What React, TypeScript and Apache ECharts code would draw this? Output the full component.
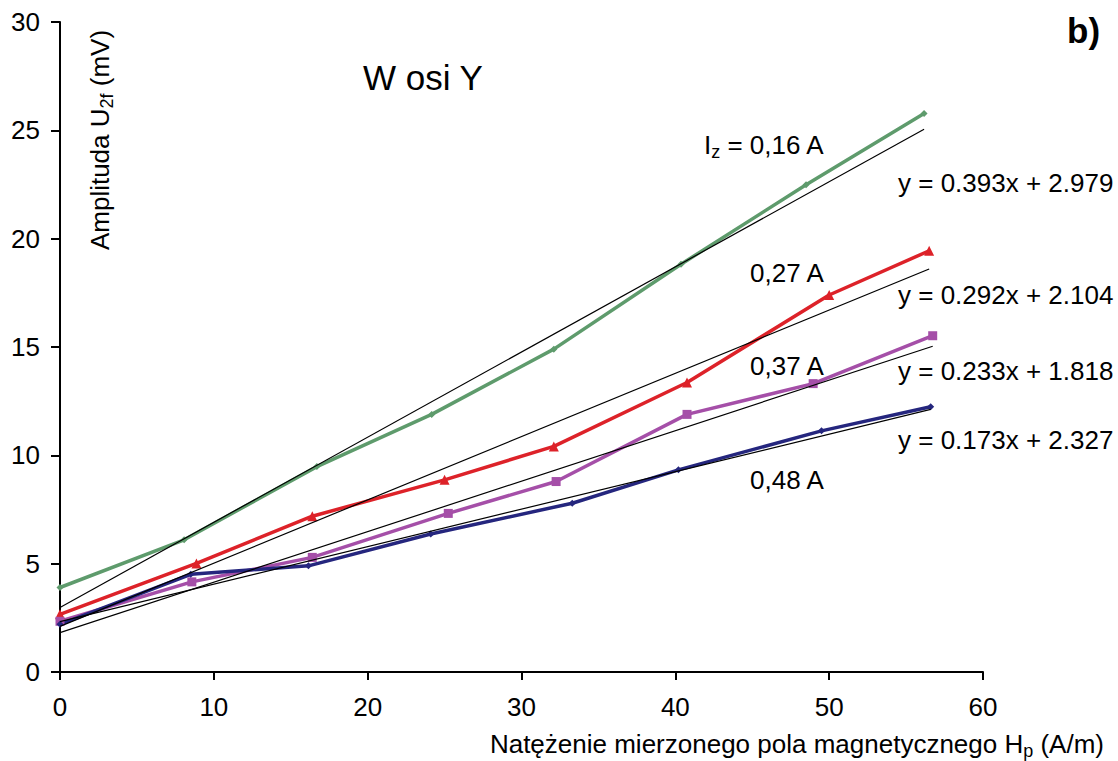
import React, { useEffect, useRef } from "react";
import * as echarts from "echarts";

const FONT = '"Liberation Sans", Arial, Helvetica, sans-serif';

// Measured series (H_p in A/m, U_2f in mV)
const seriesNames = ["0,16 A", "0,27 A", "0,37 A", "0,48 A"];
const xA = [0, 8.07, 16.7, 24.16, 32.1, 40.37, 48.5, 56.17];
const yA = [3.9, 6.1, 9.48, 11.89, 14.9, 18.82, 22.49, 25.78];
const xB = [0, 8.87, 16.4, 25.0, 32.1, 40.76, 50.0, 56.5];
const yB = [2.66, 5.01, 7.19, 8.87, 10.41, 13.36, 17.4, 19.44];
const xC = [0, 8.57, 16.4, 25.24, 32.25, 40.76, 48.96, 56.73];
const yC = [2.34, 4.16, 5.29, 7.32, 8.79, 11.89, 13.31, 15.52];
const xD = [0, 8.5, 16.15, 24.1, 33.3, 40.2, 49.5, 56.6];
const yD = [2.2, 4.51, 4.9, 6.37, 7.79, 9.33, 11.13, 12.24];

// Linear trendlines y = a*x + b
const slopes = [0.393, 0.292, 0.233, 0.173];
const intercepts = [2.979, 2.104, 1.818, 2.327];
const trendEnds = [56.17, 56.5, 56.73, 56.6];

const colors = ["#5E9B6C", "#DD2229", "#A54FA8", "#25267E"];
const symbols = ["diamond", "triangle", "rect", "diamond"];
const symbolSizes = [7, 10, 9, 7];

export default function App() {
  const ref = useRef<HTMLDivElement>(null);
  useEffect(() => {
    if (!ref.current) return;
    const chart = echarts.init(ref.current, undefined, { renderer: "svg" });
    const xs = [xA, xB, xC, xD];
    const ys = [yA, yB, yC, yD];

    const dataSeries = xs.map((xv, i) => ({
      name: seriesNames[i],
      type: "line",
      data: xv.map((x, j) => [x, ys[i][j]]),
      symbol: symbols[i],
      symbolSize: symbolSizes[i],
      itemStyle: { color: colors[i] },
      lineStyle: { color: colors[i], width: 3.5 },
      z: 3,
    }));
    const trendSeries = slopes.map((a, i) => ({
      name: "trend " + seriesNames[i],
      type: "line",
      data: [
        [0, intercepts[i]],
        [trendEnds[i], a * trendEnds[i] + intercepts[i]],
      ],
      symbol: "none",
      lineStyle: { color: "#000", width: 1.2 },
      z: 4,
    }));

    const rich = (fs: number) => ({
      n: { fontSize: fs, fontFamily: FONT, lineHeight: 32, color: "#000" },
      sub: { fontSize: 18, fontFamily: FONT, lineHeight: 32, verticalAlign: "bottom", color: "#000" },
    });
    const txt = (x: number, y: number, text: string, opts: any = {}) => ({
      type: "text",
      x,
      y,
      rotation: opts.rotation || 0,
      style: {
        text,
        fontSize: opts.fontSize || 26,
        fontFamily: FONT,
        fontWeight: opts.fontWeight || "normal",
        fill: "#000",
        align: opts.align || "left",
        textAlign: opts.align || "left",
        verticalAlign: "middle",
        textVerticalAlign: "middle",
        rich: rich(opts.fontSize || 26),
      },
      z: 10,
    });

    const eq = (i: number) =>
      "y = " + slopes[i].toFixed(3) + "x + " + intercepts[i].toFixed(3);

    chart.setOption({
      animation: false,
      grid: { left: 60, right: 135, top: 22, bottom: 89, containLabel: false },
      xAxis: {
        type: "value",
        min: 0,
        max: 60,
        interval: 10,
        axisLine: { show: true, onZero: false, lineStyle: { color: "#000", width: 2 } },
        axisTick: { show: true, inside: false, length: 8, lineStyle: { color: "#000", width: 2 } },
        axisLabel: { color: "#000", fontSize: 26, fontFamily: FONT, margin: 22 },
        splitLine: { show: false },
      },
      yAxis: {
        type: "value",
        min: 0,
        max: 30,
        interval: 5,
        axisLine: { show: true, lineStyle: { color: "#000", width: 2 } },
        axisTick: { show: true, inside: false, length: 9, lineStyle: { color: "#000", width: 2 } },
        axisLabel: { color: "#000", fontSize: 26, fontFamily: FONT, margin: 20 },
        splitLine: { show: false },
      },
      series: [...dataSeries, ...trendSeries],
      graphic: [
        txt(363, 77, "W osi Y", { fontSize: 35 }),
        txt(1067, 30, "b)", { fontSize: 35, fontWeight: "bold" }),
        txt(100, 140, "{n|Amplituda U}{sub|2f}{n| (mV)}", { rotation: Math.PI / 2, align: "center" }),
        txt(1104, 744, "{n|Natężenie mierzonego pola magnetycznego H}{sub|p}{n| (A/m)}", { align: "right" }),
        txt(704, 145, "{n|I}{sub|z}{n| = 0,16 A}"),
        txt(750, 273, seriesNames[1]),
        txt(750, 366, seriesNames[2]),
        txt(750, 480, seriesNames[3]),
        txt(898, 183, eq(0)),
        txt(898, 295, eq(1)),
        txt(898, 371, eq(2)),
        txt(898, 440, eq(3)),
      ],
    });
    return () => chart.dispose();
  }, []);
  return (
    <div
      ref={ref}
      style={{ position: "fixed", left: 0, top: 0, width: 1118, height: 761, background: "#fff" }}
    />
  );
}
